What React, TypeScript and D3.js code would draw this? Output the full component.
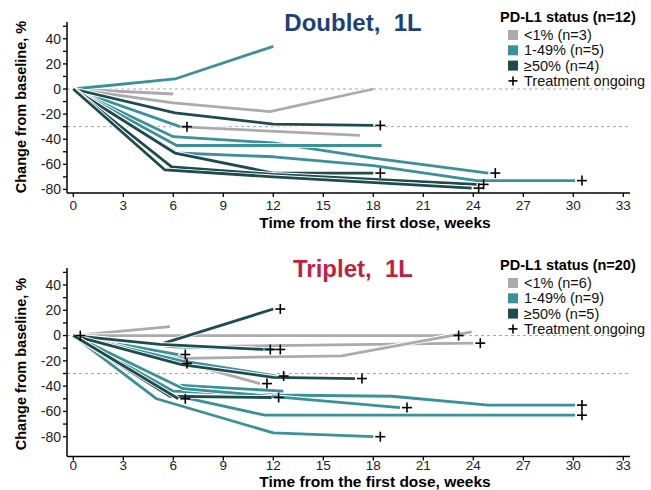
import React from 'react';
import * as d3 from 'd3';

type Pt = [number, number];
type Patient = { pts: Pt[]; ongoing: boolean };

const xTickValues = [0, 3, 6, 9, 12, 15, 18, 21, 24, 27, 30, 33];
const yMajorTicks = [-80, -60, -40, -20, 0, 20, 40];
const yMinorTicks = [-70, -50, -30, -10, 10, 30, 50];
const refLines = [0, -30];

const groupColors = ['#ababab', '#3b9198', '#1f4b4d'];

const doubletLabels = ['<1% (n=3)', '1-49% (n=5)', '\u226550% (n=4)'];
const tripletLabels = ['<1% (n=6)', '1-49% (n=9)', '\u226550% (n=5)'];

const doubletLow: Patient[] = [
  { pts: [[0, 0], [6, -4]], ongoing: false },
  { pts: [[0, 0], [6, -11], [11.8, -18], [18, 0]], ongoing: false },
  { pts: [[0, 0], [6.3, -30], [17.2, -37]], ongoing: false },
];
const doubletMid: Patient[] = [
  { pts: [[0, 0], [6.1, 8], [12, 34]], ongoing: false },
  { pts: [[0, 0], [6.4, -30]], ongoing: true },
  { pts: [[0, 0], [6, -38], [12, -43], [18, -55], [24.9, -67]], ongoing: true },
  { pts: [[0, 0], [6.2, -45], [18.5, -45]], ongoing: false },
  { pts: [[0, 0], [6.2, -51], [12, -54], [18, -61], [24.2, -73], [30.1, -73]], ongoing: true },
];
const doubletHigh: Patient[] = [
  { pts: [[0, 0], [6.1, -19], [12, -28], [18, -29]], ongoing: true },
  { pts: [[0, 0], [6.1, -51], [12, -67], [18, -67]], ongoing: true },
  { pts: [[0, 0], [5.9, -62], [12, -68], [24.2, -76]], ongoing: true },
  { pts: [[0, 0], [5.5, -64.5], [12, -70], [23.9, -79]], ongoing: true },
];

const tripletLow: Patient[] = [
  { pts: [[0, 0]], ongoing: true },
  { pts: [[0, 0], [5.8, 7]], ongoing: false },
  { pts: [[0, 0], [12, 0], [22.7, 0]], ongoing: true },
  { pts: [[0, 0], [6, -9], [24, -6]], ongoing: true },
  { pts: [[0, 0], [6.7, -18], [16.1, -16], [23.9, 3]], ongoing: false },
  { pts: [[0, 0], [6.5, -21], [11.2, -38]], ongoing: true },
];
const tripletMid: Patient[] = [
  { pts: [[0, 0], [6.3, -15]], ongoing: true },
  { pts: [[0, 0], [6, -9], [12, -11]], ongoing: true },
  { pts: [[0, 0], [6.4, -22]], ongoing: true },
  { pts: [[0, 0], [6.5, -20], [12.2, -32]], ongoing: true },
  { pts: [[0, 0], [6, -39], [12.6, -44]], ongoing: false },
  { pts: [[0, 0], [6, -44], [12, -47], [19.1, -48], [24.9, -55], [30.1, -55]], ongoing: true },
  { pts: [[0, 0], [6.6, -42], [19.6, -57]], ongoing: true },
  { pts: [[0, 0], [5.6, -46], [11.5, -63], [30.1, -63]], ongoing: true },
  { pts: [[0, 0], [5, -50], [12, -77], [18, -80]], ongoing: true },
];
const tripletHigh: Patient[] = [
  { pts: [[0, 0], [5.2, -7], [12, 21]], ongoing: true },
  { pts: [[0, 0], [5.2, -7], [11.4, -11]], ongoing: true },
  { pts: [[0, 0], [6.5, -23], [12, -33], [16.9, -34]], ongoing: true },
  { pts: [[0, 0], [5.8, -48], [11.9, -49]], ongoing: true },
  { pts: [[0, 0], [6.3, -50]], ongoing: true },
];

const FONT = "'Liberation Sans', Arial, sans-serif";

type PanelProps = {
  title: string;
  titleColor: string;
  titleY: number;
  legendTitle: string;
  legendLabels: string[];
  legendY: number;
  groups: Patient[][];
  yRange: [number, number];
  axisTop: number;
  axisBottom: number;
  yLabelCenter: number;
  tickLabelY: number;
  xLabelY: number;
};

function Plus({ x, y, s = 5 }: { x: number; y: number; s?: number }) {
  return (
    <g stroke="#000" strokeWidth={1.6}>
      <line x1={x - s} x2={x + s} y1={y} y2={y} />
      <line x1={x} x2={x} y1={y - s} y2={y + s} />
    </g>
  );
}

function Panel(p: PanelProps) {
  const x = d3.scaleLinear().domain([0, 33]).range([73.3, 623.3]);
  const y = d3.scaleLinear().domain([-80, 40]).range(p.yRange);
  const line = d3
    .line<Pt>()
    .x((d) => x(d[0]))
    .y((d) => y(d[1]));
  const axisX = 67;
  const axisRight = 630;

  return (
    <g fontFamily={FONT}>
      {refLines.map((v) => (
        <line
          key={v}
          x1={axisX}
          x2={axisRight}
          y1={y(v)}
          y2={y(v)}
          stroke="#9a9a9a"
          strokeWidth={0.9}
          strokeDasharray="3,3"
        />
      ))}
      {p.groups.map((grp, gi) =>
        grp.map((pt, i) =>
          pt.pts.length > 1 ? (
            <g key={`${gi}-${i}`}>
              <path d={line(pt.pts) || ''} fill="none" stroke="#fff" strokeWidth={4.6} strokeLinejoin="round" />
              <path d={line(pt.pts) || ''} fill="none" stroke={groupColors[gi]} strokeWidth={2.8} strokeLinejoin="round" />
            </g>
          ) : null
        )
      )}
      {p.groups.map((grp, gi) =>
        grp.map((pt, i) => {
          if (!pt.ongoing) return null;
          const last = pt.pts[pt.pts.length - 1];
          return <Plus key={`p${gi}-${i}`} x={x(last[0]) + 7} y={y(last[1])} />;
        })
      )}
      <line x1={axisX} x2={axisX} y1={p.axisTop} y2={p.axisBottom} stroke="#000" strokeWidth={1.5} />
      {[...yMajorTicks, ...yMinorTicks].map((v) => (
        <line key={`yt${v}`} x1={axisX - 4} x2={axisX} y1={y(v)} y2={y(v)} stroke="#000" strokeWidth={1.3} />
      ))}
      {yMajorTicks.map((v) => (
        <text key={`yl${v}`} x={axisX - 6} y={y(v)} dy="0.35em" textAnchor="end" fontSize={14} fill="#222">
          {v}
        </text>
      ))}
      <line x1={axisX} x2={axisRight} y1={p.axisBottom} y2={p.axisBottom} stroke="#000" strokeWidth={1.5} />
      {xTickValues.map((v) => (
        <g key={`xt${v}`}>
          <line x1={x(v)} x2={x(v)} y1={p.axisBottom} y2={p.axisBottom + 4} stroke="#000" strokeWidth={1.3} />
          <text x={x(v)} y={p.tickLabelY} textAnchor="middle" fontSize={13.5} fill="#222">
            {v}
          </text>
        </g>
      ))}
      <text x={375} y={p.xLabelY} textAnchor="middle" fontSize={15.5} fontWeight="bold" fill="#000">
        Time from the first dose, weeks
      </text>
      <text
        transform={`translate(21,${p.yLabelCenter}) rotate(-90)`}
        textAnchor="middle"
        dy="0.35em"
        fontSize={14.5}
        fontWeight="bold"
        fill="#000"
      >
        Change from baseline, %
      </text>
      <text x={353} y={p.titleY} textAnchor="middle" fontSize={24} fontWeight="bold" fill={p.titleColor} style={{ whiteSpace: 'pre' }}>
        {p.title}
      </text>
      <text x={500} y={p.legendY} fontSize={14.5} fontWeight="bold" fill="#000">
        {p.legendTitle}
      </text>
      {p.legendLabels.map((lab, i) => {
        const cy = p.legendY + 13 + i * 15.3;
        return (
          <g key={lab}>
            <rect x={508} y={cy - 5} width={10} height={10} fill={groupColors[i]} />
            <text x={524} y={cy} dy="0.35em" fontSize={14.5} fill="#111">
              {lab}
            </text>
          </g>
        );
      })}
      <Plus x={513} y={p.legendY + 13 + 3 * 15.3} s={4.5} />
      <text x={524} y={p.legendY + 13 + 3 * 15.3} dy="0.35em" fontSize={14.5} fill="#111">
        Treatment ongoing
      </text>
    </g>
  );
}

export default function App() {
  return (
    <svg
      width={651}
      height={490}
      viewBox="0 0 651 490"
      style={{ position: 'absolute', left: 0, top: 0, background: '#fff' }}
    >
      <rect width={651} height={490} fill="#fff" />
      <Panel
        title={'Doublet,  1L'}
        titleColor="#1d3f7c"
        titleY={31}
        legendTitle="PD-L1 status (n=12)"
        legendLabels={doubletLabels}
        legendY={22}
        groups={[doubletLow, doubletMid, doubletHigh]}
        yRange={[189.4, 38.8]}
        axisTop={22}
        axisBottom={193}
        yLabelCenter={107}
        tickLabelY={210}
        xLabelY={228}
      />
      <Panel
        title={'Triplet,  1L'}
        titleColor="#c41f3e"
        titleY={277}
        legendTitle="PD-L1 status (n=20)"
        legendLabels={tripletLabels}
        legendY={270}
        groups={[tripletLow, tripletMid, tripletHigh]}
        yRange={[436.7, 285]}
        axisTop={268}
        axisBottom={456.5}
        yLabelCenter={364}
        tickLabelY={470}
        xLabelY={486.5}
      />
    </svg>
  );
}
